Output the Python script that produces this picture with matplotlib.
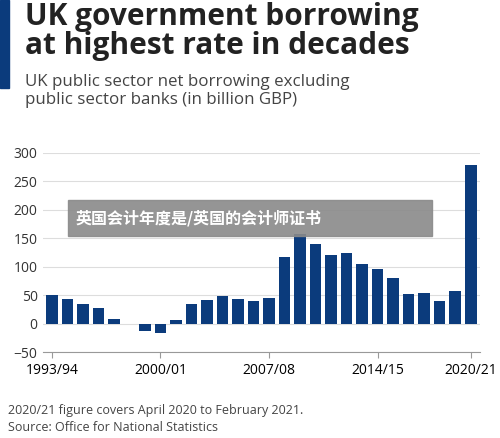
import numpy as np
import matplotlib.pyplot as plt
from matplotlib.patches import Rectangle

plt.rcParams['font.family'] = ['Open Sans', 'Noto Sans CJK SC', 'DejaVu Sans']

years = [f"{y}/{(y + 1) % 100:02d}" for y in range(1993, 2021)]
borrowing = [51, 43, 35, 28, 8, -1, -12, -16, 6, 34, 41, 49, 44, 40, 45,
             117, 158, 140, 121, 125, 105, 96, 80, 53, 54, 39, 57, 278]
tick_labels = ["1993/94", "2000/01", "2007/08", "2014/15", "2020/21"]

fig = plt.figure(figsize=(5, 4.38), dpi=100)
ax = fig.add_axes([0.085, 0.196, 0.875, 0.455])
x = np.arange(len(years))
ax.bar(x, borrowing, width=0.75, color='#0b3b7c', zorder=3)
ax.set_ylim(-50, 300)
ax.set_yticks(range(-50, 301, 50))
ax.set_xlim(-0.6, len(years) - 0.4)
ax.set_xticks([years.index(t) for t in tick_labels])
ax.set_xticklabels(tick_labels, fontsize=7.5, color='#333333')
ax.tick_params(axis='y', labelsize=10, colors='#333333', length=0)
ax.tick_params(axis='x', length=4, color='#999999')
ax.grid(axis='y', color='#dddddd', lw=0.8, zorder=0)
for s in ['top', 'right', 'left']:
    ax.spines[s].set_visible(False)
ax.spines['bottom'].set_color('#999999')
ax.spines['bottom'].set_position(('data', -50))

fig.patches.append(Rectangle((0.0, 0.80), 0.018, 0.2, transform=fig.transFigure,
                             color='#0b3b7c'))
fig.text(0.05, 0.995, "UK government borrowing\nat highest rate in decades",
         fontsize=21.5, fontweight='bold', va='top', color='#222222', linespacing=0.95)
fig.text(0.05, 0.83, "UK public sector net borrowing excluding\npublic sector banks (in billion GBP)",
         fontsize=12.2, va='top', color='#444444', linespacing=1.1)
fig.patches.append(Rectangle((0.136, 0.461), 0.728, 0.082, transform=fig.transFigure,
                             color='#8a8a8a', alpha=0.9, zorder=5))
fig.text(0.152, 0.502, "英国会计年度是/英国的会计师证书", fontsize=11.5, fontweight='bold',
         color='white', va='center', family=['Noto Sans CJK SC'], zorder=6)
fig.text(0.016, 0.078, "2020/21 figure covers April 2020 to February 2021.\nSource: Office for National Statistics",
         fontsize=9, va='top', color='#444444', linespacing=1.4)

fig.savefig('out.png', dpi=100)
